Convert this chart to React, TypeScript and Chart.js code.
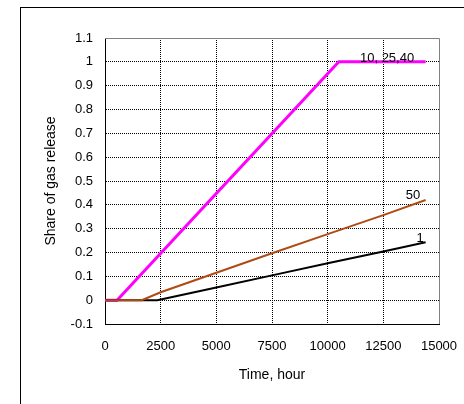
import React, { useEffect, useRef } from "react";
import { Chart, registerables } from "chart.js";

Chart.register(...registerables);

// Data (time in hours, share of gas release)
const magentaTime = [0, 540, 10500, 14400];
const magentaShare = [0, 0, 1, 1];
const brownTime = [0, 1650, 2500, 5000, 7500, 10000, 12500, 14400];
const brownShare = [0, 0, 0.033, 0.115, 0.197, 0.277, 0.357, 0.42];
const blackTime = [0, 2350, 5000, 7500, 10000, 12500, 14400];
const blackShare = [0, 0, 0.053, 0.104, 0.155, 0.204, 0.243];

const seriesLabels = ["10, 25,40", "50", "1"];
// label anchor positions in data units (x, y baseline)
const labelX = [11450, 13830, 14150];
const labelY = [1.0, 0.425, 0.243];

const xMin = 0, xMax = 15000, xStep = 2500;
const yMin = -0.1, yMax = 1.1, yStep = 0.1;

const FONT = "'Liberation Sans', Arial, sans-serif";

const pts = (xs: number[], ys: number[]) => xs.map((x, i) => ({ x, y: ys[i] }));

const frameAndLabels = {
  id: "frameAndLabels",
  afterDatasetsDraw(chart: any) {
    const { ctx, chartArea, scales } = chart;
    const { left, right, top, bottom } = chartArea;
    ctx.save();
    ctx.lineWidth = 1;
    ctx.strokeStyle = "#808080";
    ctx.beginPath();
    ctx.moveTo(left, Math.round(top) + 0.5);
    ctx.lineTo(Math.round(right) + 0.5, Math.round(top) + 0.5);
    ctx.lineTo(Math.round(right) + 0.5, bottom);
    ctx.stroke();
    ctx.fillStyle = "#000";
    ctx.font = `13px ${FONT}`;
    ctx.textBaseline = "alphabetic";
    seriesLabels.forEach((t, i) => {
      const x = scales.x.getPixelForValue(labelX[i]);
      const y = scales.y.getPixelForValue(labelY[i]);
      ctx.textAlign = i === 0 ? "left" : "center";
      ctx.fillText(t, x, y);
    });
    ctx.restore();
  },
};

export default function App() {
  const ref = useRef<HTMLCanvasElement | null>(null);
  useEffect(() => {
    if (!ref.current) return;
    const gridColor = (lo: number, hi: number) => (c: any) => {
      const v = c.tick ? c.tick.value : null;
      if (v === null) return "#000";
      if (Math.abs(v - lo) < 1e-9 || Math.abs(v - hi) < 1e-9) return "rgba(0,0,0,0)";
      return "#000";
    };
    const chart = new Chart(ref.current, {
      type: "line",
      data: {
        datasets: [
          {
            label: "50",
            data: pts(brownTime, brownShare),
            borderColor: "#B04A12",
            borderWidth: 2,
            pointRadius: 0,
            tension: 0,
          },
          {
            label: "1",
            data: pts(blackTime, blackShare),
            borderColor: "#000000",
            borderWidth: 2,
            pointRadius: 0,
            tension: 0,
          },
          {
            label: "10, 25,40",
            data: pts(magentaTime, magentaShare),
            borderColor: "#FF00FF",
            borderWidth: 3,
            pointRadius: 0,
            tension: 0,
          },
        ],
      },
      options: {
        animation: false,
        responsive: false,
        maintainAspectRatio: false,
        layout: { padding: { left: 0, top: 38, right: 25, bottom: 0 } },
        plugins: { legend: { display: false }, tooltip: { enabled: false } },
        scales: {
          x: {
            type: "linear",
            min: xMin,
            max: xMax,
            ticks: {
              stepSize: xStep,
              color: "#000",
              font: { family: FONT, size: 13 },
              padding: 15,
              maxRotation: 0,
              callback: (v: any) => String(v),
            },
            grid: { color: gridColor(xMin, xMax), drawTicks: false, tickLength: 0, lineWidth: 1 },
            border: { display: true, color: "#000", width: 1, dash: [1, 1] },
            title: {
              display: true,
              text: "Time, hour",
              color: "#000",
              font: { family: FONT, size: 14 },
              padding: { top: 0, bottom: 20 },
            },
            afterFit: (s: any) => {
              s.height = 80;
              s.paddingLeft = 0;
              s.paddingRight = 0;
            },
          },
          y: {
            type: "linear",
            min: yMin,
            max: yMax,
            ticks: {
              stepSize: yStep,
              color: "#000",
              font: { family: FONT, size: 13 },
              padding: 12,
              callback: (v: any) => String(Math.round(v * 10) / 10),
            },
            grid: { color: gridColor(yMin, yMax), drawTicks: false, tickLength: 0, lineWidth: 1 },
            border: { display: true, color: "#000", width: 1, dash: [1, 1] },
            title: {
              display: true,
              text: "Share of gas release",
              color: "#000",
              font: { family: FONT, size: 14 },
              padding: { top: 42.6, bottom: 0 },
            },
            afterFit: (s: any) => {
              s.width = 105;
              s.paddingTop = 0;
              s.paddingBottom = 0;
            },
          },
        },
      },
      plugins: [frameAndLabels],
    });
    return () => chart.destroy();
  }, []);
  return (
    <div style={{ position: "absolute", left: 0, top: 0, width: 464, height: 404, background: "#fff", overflow: "hidden" }}>
      <div
        style={{
          position: "absolute",
          left: 20,
          top: 7,
          width: 600,
          height: 600,
          borderLeft: "1px solid #000",
          borderTop: "1px solid #000",
        }}
      />
      <canvas ref={ref} width={464} height={404} style={{ position: "absolute", left: 0, top: 0 }} />
    </div>
  );
}
